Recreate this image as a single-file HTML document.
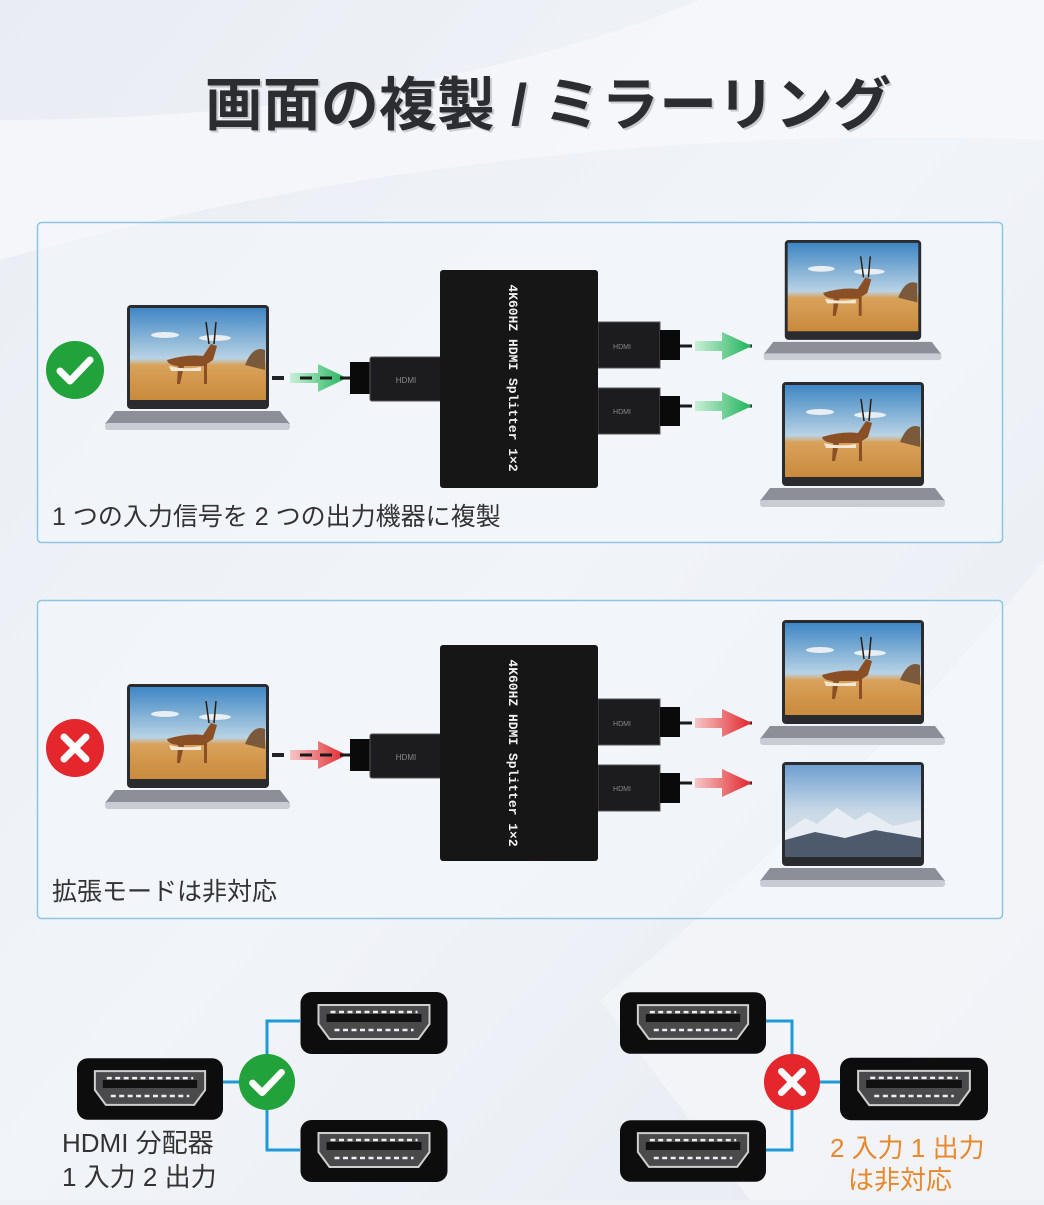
<!DOCTYPE html>
<html><head><meta charset="utf-8"><style>
html,body{margin:0;padding:0;}
body{width:1044px;height:1200px;overflow:hidden;background:#eef1f6;font-family:"Liberation Sans","Noto Sans CJK JP",sans-serif;}
</style></head><body>
<svg width="1044" height="1200" viewBox="0 0 1044 1200" xmlns="http://www.w3.org/2000/svg">
<defs>
<linearGradient id="bg" x1="0" y1="0" x2="1" y2="1">
<stop offset="0" stop-color="#e9edf3"/><stop offset="0.5" stop-color="#f1f4f8"/><stop offset="1" stop-color="#e6eaf1"/>
</linearGradient>
<linearGradient id="sky" x1="0" y1="0" x2="0" y2="1">
<stop offset="0" stop-color="#3f86c4"/><stop offset="0.55" stop-color="#b9d3e4"/><stop offset="0.62" stop-color="#d9a25a"/><stop offset="1" stop-color="#c98a3c"/>
</linearGradient>
<linearGradient id="sky2" x1="0" y1="0" x2="0" y2="1">
<stop offset="0" stop-color="#6f9fcf"/><stop offset="0.5" stop-color="#c8d8e6"/><stop offset="1" stop-color="#dfe6ee"/>
</linearGradient>
<linearGradient id="garr" x1="0" x2="1"><stop offset="0" stop-color="#c9f0d6"/><stop offset="1" stop-color="#1fb25a"/></linearGradient>
<linearGradient id="rarr" x1="0" x2="1"><stop offset="0" stop-color="#f7c6c6"/><stop offset="1" stop-color="#e0242a"/></linearGradient>
<symbol id="lap" viewBox="0 0 185 127">
<rect x="22" y="0" width="142" height="104" rx="4" fill="#2a2b2f"/>
<rect x="25" y="3" width="136" height="92" fill="url(#sky)"/>
<ellipse cx="60" cy="30" rx="14" ry="3" fill="#e8eef2"/><ellipse cx="110" cy="33" rx="16" ry="3" fill="#e8eef2"/>
<path d="M140 60 q8-20 20-15 v20 z" fill="#7a5a3a"/>
<path d="M62 55 q20-6 36-4 l8-12 6 2 -4 14 -6 4 v20 h-3 v-18 h-20 l-4 18 h-3 l1-18 q-10-1-11-6z" fill="#8a4f25"/>
<path d="M64 61 q16 4 32 1 v4 h-30z" fill="#f2e6d6"/>
<path d="M104 39 l-3-22 M109 39 l2-22" stroke="#2a1d10" stroke-width="1.5"/>
<path d="M0 119 L10 106 H175 L185 119 Z" fill="#8c8f97"/>
<rect x="0" y="118" width="185" height="7" rx="3" fill="#c9ccd2"/>
</symbol>
<symbol id="lap2" viewBox="0 0 185 127">
<rect x="22" y="0" width="142" height="104" rx="4" fill="#2a2b2f"/>
<rect x="25" y="3" width="136" height="92" fill="url(#sky2)"/>
<path d="M25 70 l20-14 12 6 20-16 18 12 14-8 24 14 28-6 v32 h-136z" fill="#e8edf3"/>
<path d="M25 78 l30-8 30 6 30-8 46 8 v19 h-136z" fill="#4c5a6c"/>
<path d="M0 119 L10 106 H175 L185 119 Z" fill="#8c8f97"/>
<rect x="0" y="118" width="185" height="7" rx="3" fill="#c9ccd2"/>
</symbol>
<symbol id="hd" viewBox="0 0 147 62">
<rect x="0" y="0" width="147" height="62" rx="11" fill="#0d0d0d"/>
<path d="M18 13 H129 V32 L118 47 H29 L18 32 Z" fill="#4a4a4c" stroke="#cfcfcf" stroke-width="2"/>
<path d="M26 26 H121" stroke="#111" stroke-width="8"/>
<path d="M30 20 H117" stroke="#eee" stroke-width="2.5" stroke-dasharray="5 3.5"/>
<path d="M34 38 H113" stroke="#eee" stroke-width="2.5" stroke-dasharray="5 3.5"/>
</symbol>
<symbol id="ok" viewBox="0 0 60 60">
<circle cx="30" cy="30" r="29" fill="#22a23a"/>
<path d="M15 31 l10 10 l20 -21" fill="none" stroke="#fff" stroke-width="7" stroke-linecap="round" stroke-linejoin="round"/>
</symbol>
<symbol id="ng" viewBox="0 0 60 60">
<circle cx="30" cy="30" r="29" fill="#e4262d"/>
<path d="M19 19 L41 41 M41 19 L19 41" stroke="#fff" stroke-width="7" stroke-linecap="round"/>
</symbol>
</defs>
<rect width="1044" height="1200" fill="url(#bg)"/>
<path d="M0 260 Q500 120 1044 140 V0 H700 Q400 120 0 120Z" fill="#f6f8fb" opacity="0.8"/>
<path d="M600 1000 Q850 800 1044 560 V1200 H750Z" fill="#f5f7fa" opacity="0.7"/>

<text x="550" y="127" font-size="58" font-weight="bold" fill="#7b7e84" text-anchor="middle" opacity="0.35">画面の複製 / ミラーリング</text>
<text x="548" y="125" font-size="58" font-weight="bold" fill="#2b2d31" text-anchor="middle">画面の複製 / ミラーリング</text>

<!-- Box 1 -->
<rect x="37.5" y="222.5" width="965" height="320" rx="4" fill="#f4f7fb" fill-opacity="0.6" stroke="#8dc6e3" stroke-width="1.5"/>
<use href="#ok" x="45" y="340" width="60" height="60"/>
<use href="#lap" x="105" y="305" width="185" height="127"/>
<g>
<path d="M272 378 H300" stroke="#222" stroke-width="4" stroke-dasharray="12 7"/>
<path d="M290 373 H318 V364 L347 378 L318 392 V383 H290Z" fill="url(#garr)"/>
<path d="M300 378 H350" stroke="#1a1a1a" stroke-width="3" stroke-dasharray="12 8"/>
<rect x="350" y="362" width="22" height="32" fill="#0a0a0a"/>
<rect x="370" y="357" width="72" height="44" rx="2" fill="#1c1c1e" stroke="#555"/>
<text x="406" y="383" font-size="8" fill="#888" text-anchor="middle">HDMI</text>
<rect x="598" y="322" width="62" height="46" fill="#1c1c1e" stroke="#555"/>
<rect x="598" y="388" width="62" height="46" fill="#1c1c1e" stroke="#555"/>
<text x="622" y="349" font-size="7" fill="#888" text-anchor="middle">HDMI</text>
<text x="622" y="414" font-size="7" fill="#888" text-anchor="middle">HDMI</text>
<rect x="660" y="330" width="20" height="30" fill="#0a0a0a"/>
<rect x="660" y="396" width="20" height="30" fill="#0a0a0a"/>
<rect x="440" y="270" width="158" height="218" rx="3" fill="#161617"/>
<text transform="translate(509 378) rotate(90)" font-size="13" font-weight="bold" fill="#f2f2f2" text-anchor="middle" font-family="Liberation Mono,monospace">4K60HZ HDMI Splitter 1×2</text>
<path d="M680 346 H760" stroke="#1a1a1a" stroke-width="3" stroke-dasharray="12 8"/>
<path d="M695 341 H722 V332 L752 346 L722 360 V351 H695Z" fill="url(#garr)"/>
<path d="M680 406 H760" stroke="#1a1a1a" stroke-width="3" stroke-dasharray="12 8"/>
<path d="M695 401 H722 V392 L752 406 L722 420 V411 H695Z" fill="url(#garr)"/>
</g>
<use href="#lap" x="760" y="240" width="185" height="122"/>
<use href="#lap" x="760" y="382" width="185" height="127"/>
<text x="52" y="525" font-size="25" fill="#333">1 つの入力信号を 2 つの出力機器に複製</text>

<!-- Box 2 -->
<rect x="37.5" y="600.5" width="965" height="318" rx="4" fill="#f4f7fb" fill-opacity="0.6" stroke="#8dc6e3" stroke-width="1.5"/>
<use href="#ng" x="45" y="718" width="60" height="60"/>
<use href="#lap" x="105" y="684" width="185" height="127"/>
<g transform="translate(0 377)">
<path d="M272 378 H300" stroke="#222" stroke-width="4" stroke-dasharray="12 7"/>
<path d="M290 373 H318 V364 L347 378 L318 392 V383 H290Z" fill="url(#rarr)"/>
<path d="M300 378 H350" stroke="#1a1a1a" stroke-width="3" stroke-dasharray="12 8"/>
<rect x="350" y="362" width="22" height="32" fill="#0a0a0a"/>
<rect x="370" y="357" width="72" height="44" rx="2" fill="#1c1c1e" stroke="#555"/>
<text x="406" y="383" font-size="8" fill="#888" text-anchor="middle">HDMI</text>
<rect x="598" y="322" width="62" height="46" fill="#1c1c1e" stroke="#555"/>
<rect x="598" y="388" width="62" height="46" fill="#1c1c1e" stroke="#555"/>
<text x="622" y="349" font-size="7" fill="#888" text-anchor="middle">HDMI</text>
<text x="622" y="414" font-size="7" fill="#888" text-anchor="middle">HDMI</text>
<rect x="660" y="330" width="20" height="30" fill="#0a0a0a"/>
<rect x="660" y="396" width="20" height="30" fill="#0a0a0a"/>
<rect x="440" y="268" width="158" height="216" rx="3" fill="#161617"/>
<text transform="translate(509 376) rotate(90)" font-size="13" font-weight="bold" fill="#f2f2f2" text-anchor="middle" font-family="Liberation Mono,monospace">4K60HZ HDMI Splitter 1×2</text>
<path d="M680 346 H760" stroke="#1a1a1a" stroke-width="3" stroke-dasharray="12 8"/>
<path d="M695 341 H722 V332 L752 346 L722 360 V351 H695Z" fill="url(#rarr)"/>
<path d="M680 406 H760" stroke="#1a1a1a" stroke-width="3" stroke-dasharray="12 8"/>
<path d="M695 401 H722 V392 L752 406 L722 420 V411 H695Z" fill="url(#rarr)"/>
</g>
<use href="#lap" x="760" y="620" width="185" height="127"/>
<use href="#lap2" x="760" y="762" width="185" height="127"/>
<text x="52" y="900" font-size="25" fill="#333">拡張モードは非対応</text>

<!-- Bottom left -->
<path d="M222 1082 H240 M267 1082 V1021 H300 M267 1082 V1150 H300" fill="none" stroke="#1f9ad8" stroke-width="3"/>
<use href="#hd" x="77" y="1055" width="146" height="68"/>
<use href="#hd" x="300" y="992" width="148" height="62"/>
<use href="#hd" x="300" y="1120" width="148" height="62"/>
<use href="#ok" x="238" y="1053" width="58" height="58"/>
<text x="62" y="1152" font-size="26" fill="#333">HDMI 分配器</text>
<text x="62" y="1186" font-size="26" fill="#333">1 入力 2 出力</text>

<!-- Bottom right -->
<path d="M765 1021 H792 V1150 H765 M792 1082 H840" fill="none" stroke="#1f9ad8" stroke-width="3"/>
<use href="#hd" x="620" y="992" width="146" height="62"/>
<use href="#hd" x="620" y="1120" width="146" height="62"/>
<use href="#hd" x="840" y="1055" width="148" height="68"/>
<use href="#ng" x="763" y="1053" width="58" height="58"/>
<text x="830" y="1157" font-size="26" fill="#e8882a">2 入力 1 出力</text>
<text x="848" y="1189" font-size="26" fill="#e8882a">は非対応</text>
</svg>
</body></html>
